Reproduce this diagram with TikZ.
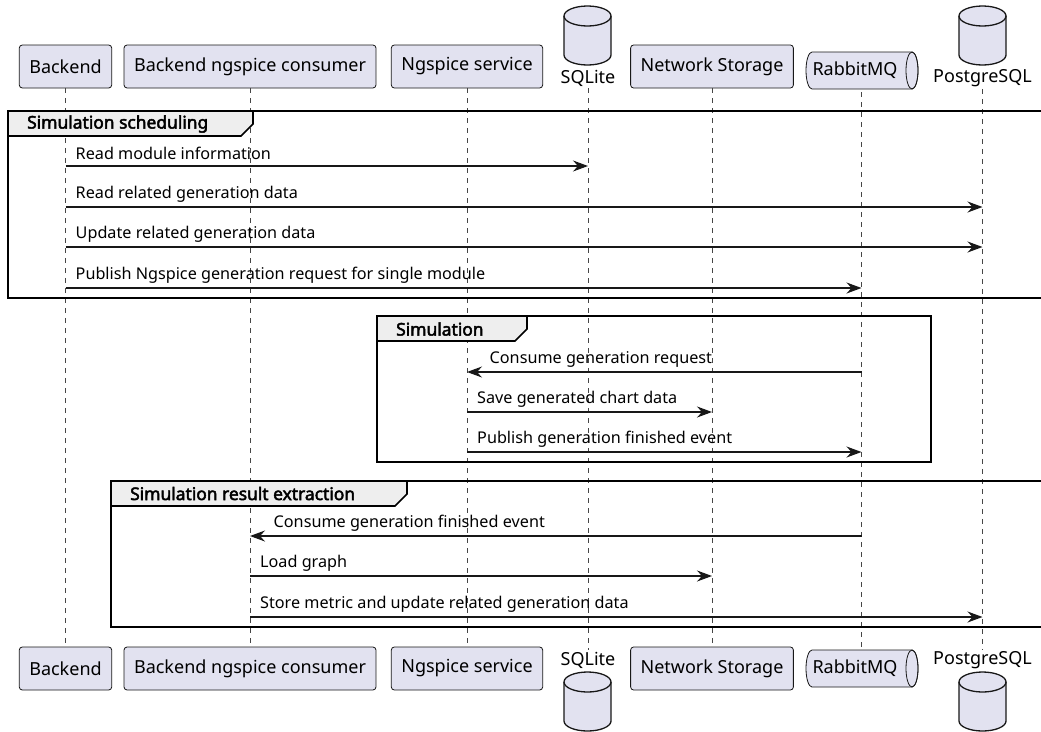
\documentclass[tikz,border=0pt]{standalone}
\usepackage{fontspec}
\setmainfont{Noto Sans}[AutoFakeBold=2.6]
\usetikzlibrary{arrows.meta}

\definecolor{partfill}{HTML}{E2E2F0}
\definecolor{umlline}{HTML}{181818}
\definecolor{headfill}{HTML}{EEEEEE}

\tikzset{part/.style={draw=umlline,line width=0.8pt,fill=partfill,rounded corners=3pt,
		minimum height=43pt,inner xsep=10pt,font=\fontsize{18}{21}\selectfont}}
\tikzstyle{dblabel}=[inner sep=2pt,font=\fontsize{18}{21}\selectfont]
\tikzstyle{life}=[umlline!80,line width=0.6pt,dash pattern=on 5pt off 5pt]
\tikzstyle{msg}=[umlline,line width=1.1pt,-{Stealth[length=15pt,width=11pt,inset=5pt]}]
\tikzstyle{msgtext}=[anchor=west,inner sep=0pt,font=\fontsize{16.2}{19}\selectfont]
\tikzstyle{frame}=[black,line width=1.6pt]
\tikzstyle{frametitle}=[anchor=west,inner sep=0pt,font=\bfseries\fontsize{17.4}{19}\selectfont]
\tikzstyle{db}=[draw=umlline,line width=1.3pt,fill=partfill]

\begin{document}
\begin{tikzpicture}[x=1pt,y=-1pt]
	\useasboundingbox (0,0) rectangle (1041,731);
	\fill[white] (0,0) rectangle (1041,731);
	% database icon: #1 = x centre, #2 = top
	\newcommand{\dbicon}[2]{
		\filldraw[db] (#1-23.5,#2+10) -- (#1-23.5,#2+49)
			arc[start angle=180,end angle=360,x radius=23.5pt,y radius=10pt]
			-- (#1+23.5,#2+10)
			arc[start angle=0,end angle=180,x radius=23.5pt,y radius=10pt] -- cycle;
		\draw[db,fill=none] (#1-23.5,#2+10)
			arc[start angle=180,end angle=360,x radius=23.5pt,y radius=10pt];
	}
	% queue icon: #1 = top
	\newcommand{\queueicon}[1]{
		\filldraw[db,line width=0.8pt] (812,#1) -- (912,#1)
			arc[start angle=90,end angle=-90,x radius=6pt,y radius=18.5pt]
			-- (812,#1+37)
			arc[start angle=270,end angle=90,x radius=6pt,y radius=18.5pt] -- cycle;
		\draw[db,line width=0.8pt,fill=none] (912,#1+18.5) ellipse[x radius=6pt,y radius=18.5pt];
	}

	% participants, top and bottom
	\foreach \n/\x/\t in {be/65.5/Backend, bnc/250/Backend ngspice consumer,
			ngs/467/Ngspice service, nst/712/Network Storage}{
		\node[part] (t\n) at (\x,66.5) {\t};
		\node[part] (b\n) at (\x,668.5) {\t};
	}
	\dbicon{587.5}{6}
	\dbicon{587.5}{672}
	\dbicon{982.5}{6}
	\dbicon{982.5}{672}
	\node[dblabel] (tsql) at (588,78) {SQLite};
	\node[dblabel] (bsql) at (588,660) {SQLite};
	\node[dblabel] (tpg) at (982.5,78) {PostgreSQL};
	\node[dblabel] (bpg) at (982.5,660) {PostgreSQL};
	\queueicon{52}
	\queueicon{650}
	\node[part,draw=none,fill=none] (trmq) at (861.5,70.5) {\phantom{RabbitMQ}};
	\node[part,draw=none,fill=none] (brmq) at (861.5,668.5) {\phantom{RabbitMQ}};
	\node[inner sep=0pt,font=\fontsize{18}{21}\selectfont] at (855,70.5) {RabbitMQ};
	\node[inner sep=0pt,font=\fontsize{18}{21}\selectfont] at (855,668.5) {RabbitMQ};

	% lifelines
	\foreach \n in {be,bnc,ngs,sql,nst,rmq,pg}
		\draw[life] (t\n) -- (b\n);

	% frames
	\draw[frame] (8,111) rectangle (1050,298);
	\filldraw[frame,fill=headfill] (8,111) -- (253,111) -- (253,124) -- (241,136) -- (8,136) -- cycle;
	\node[frametitle] (f1) at (27,124) {Simulation scheduling};

	\draw[frame] (377,316) rectangle (931,462);
	\filldraw[frame,fill=headfill] (377,316) -- (527,316) -- (527,329) -- (515,341) -- (377,341) -- cycle;
	\node[frametitle] (f2) at (396,329) {Simulation};

	\draw[frame] (111,481) rectangle (1050,627);
	\filldraw[frame,fill=headfill] (111,481) -- (407,481) -- (407,494) -- (395,506) -- (111,506) -- cycle;
	\node[frametitle] (f3) at (130,493.5) {Simulation result extraction};

	% messages
	\foreach \i/\y/\s/\e/\o/\t in {
			1/166/tbe/tsql/10/Read module information,
			2/207/tbe/tpg/10/Read related generation data,
			3/247/tbe/tpg/10/Update related generation data,
			4/288/tbe/trmq/10/Publish Ngspice generation request for single module,
			5/372/trmq/tngs/-372/Consume generation request,
			6/412/tngs/tnst/10/Save generated chart data,
			7/452/tngs/trmq/10/Publish generation finished event,
			8/536/trmq/tbnc/-588/Consume generation finished event,
			9/576/tbnc/tnst/10/Load graph,
			10/617/tbnc/tpg/10/Store metric and update related generation data}{
		\coordinate (s\i) at (\s |- 0,\y);
		\coordinate (e\i) at (\e |- 0,\y);
		\draw[msg] (s\i) -- (e\i);
		\node[msgtext] (l\i) at ([xshift=\o pt,yshift=13pt]s\i) {\t};
	}
\end{tikzpicture}
\end{document}
